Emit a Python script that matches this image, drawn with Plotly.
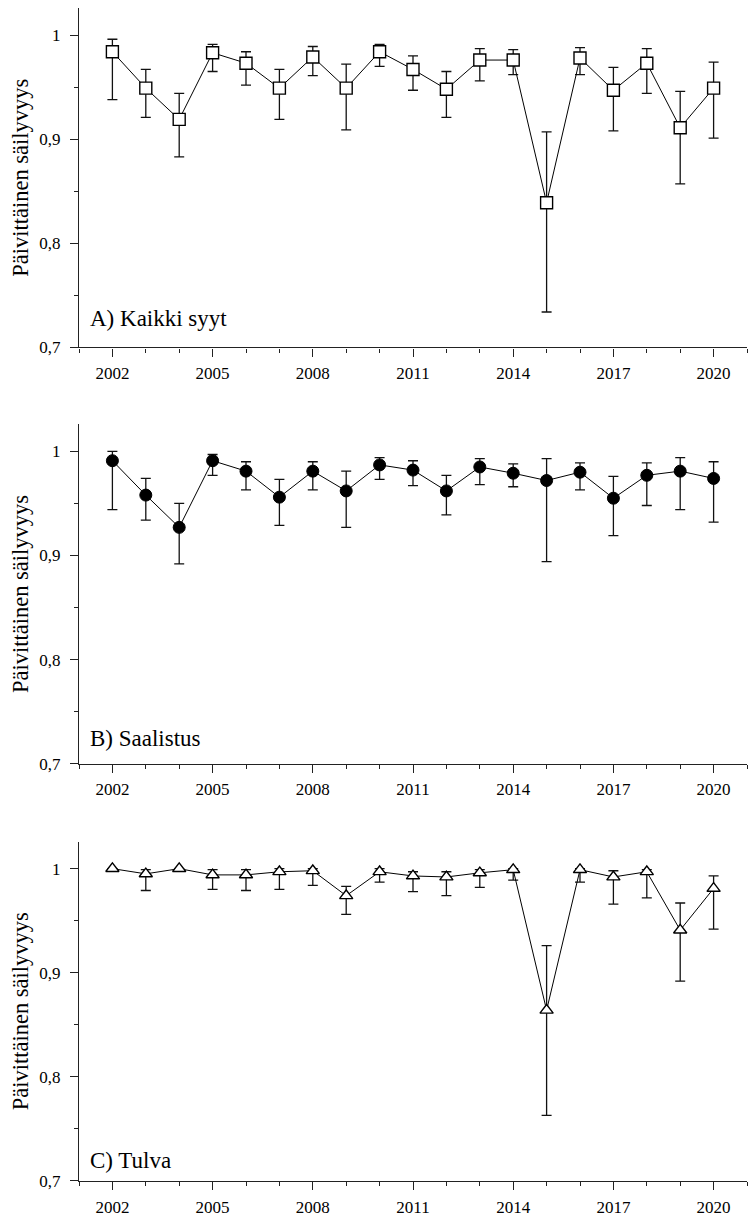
import plotly.graph_objects as go

years = list(range(2002, 2021))

a_val = [0.984, 0.949, 0.919, 0.983, 0.973, 0.949, 0.979, 0.949, 0.984, 0.967, 0.948, 0.976, 0.976, 0.839, 0.978, 0.947, 0.973, 0.911, 0.949]
a_hi = [0.996, 0.967, 0.944, 0.991, 0.984, 0.967, 0.989, 0.972, 0.991, 0.980, 0.965, 0.987, 0.986, 0.907, 0.988, 0.969, 0.987, 0.946, 0.974]
a_lo = [0.938, 0.921, 0.883, 0.965, 0.952, 0.919, 0.961, 0.909, 0.970, 0.947, 0.921, 0.956, 0.962, 0.734, 0.962, 0.908, 0.944, 0.857, 0.901]

b_val = [0.991, 0.958, 0.927, 0.991, 0.981, 0.956, 0.981, 0.962, 0.987, 0.982, 0.962, 0.985, 0.979, 0.972, 0.980, 0.955, 0.977, 0.981, 0.974]
b_hi = [1.000, 0.974, 0.950, 0.997, 0.990, 0.973, 0.990, 0.981, 0.994, 0.991, 0.977, 0.993, 0.988, 0.993, 0.989, 0.976, 0.989, 0.994, 0.990]
b_lo = [0.944, 0.934, 0.892, 0.977, 0.963, 0.929, 0.963, 0.927, 0.973, 0.967, 0.939, 0.968, 0.966, 0.894, 0.963, 0.919, 0.948, 0.944, 0.932]

c_val = [1.000, 0.995, 1.000, 0.994, 0.994, 0.997, 0.998, 0.974, 0.997, 0.993, 0.992, 0.996, 0.999, 0.864, 0.999, 0.992, 0.997, 0.941, 0.981]
c_hi = [1.000, 0.999, 1.000, 0.999, 0.999, 1.000, 1.000, 0.983, 1.000, 0.997, 0.997, 0.999, 1.000, 0.926, 1.000, 0.998, 0.999, 0.967, 0.993]
c_lo = [0.998, 0.979, 0.998, 0.980, 0.979, 0.980, 0.984, 0.956, 0.987, 0.978, 0.974, 0.982, 0.989, 0.763, 0.987, 0.966, 0.972, 0.892, 0.942]

panel_labels = ["A) Kaikki syyt", "B) Saalistus", "C) Tulva"]
y_title = "Päivittäinen säilyvyys"
x_tickvals = [2002, 2005, 2008, 2011, 2014, 2017, 2020]
y_tickvals = [0.7, 0.8, 0.9, 1.0]
y_ticktext = ["0,7", "0,8", "0,9", "1"]

FONT = "Liberation Serif, Times New Roman, serif"
AX = "#222"

fig = go.Figure()

series = [
    (a_val, a_hi, a_lo, dict(symbol="square", size=12, color="white", line=dict(color="black", width=1.4))),
    (b_val, b_hi, b_lo, dict(symbol="circle", size=12, color="black", line=dict(color="black", width=1))),
    (c_val, c_hi, c_lo, dict(symbol="triangle-up", size=11.5, color="white", line=dict(color="black", width=1.4))),
]

for i, (v, hi, lo, mk) in enumerate(series):
    n = "" if i == 0 else str(i + 1)
    fig.add_trace(go.Scatter(
        x=years, y=v, mode="lines+markers",
        line=dict(color="black", width=1),
        marker=mk,
        error_y=dict(type="data", symmetric=False,
                     array=[h - y for h, y in zip(hi, v)],
                     arrayminus=[y - l for y, l in zip(v, lo)],
                     color="#111", thickness=1.3, width=5),
        xaxis="x" + n, yaxis="y" + n, showlegend=False,
    ))

H = 1218
top, bot = 8, 35
ph = H - top - bot
panel_px = [(8, 348), (425, 765), (843, 1183)]
label_off = [29, 25, 21]

layout = dict(
    width=748, height=H,
    margin=dict(l=79, r=1, t=top, b=bot),
    paper_bgcolor="white", plot_bgcolor="white",
    font=dict(family=FONT, size=17, color="black"),
    annotations=[],
)

for i, (pt, pb) in enumerate(panel_px):
    n = "" if i == 0 else str(i + 1)
    d0 = (H - bot - pb) / ph
    d1 = (H - bot - pt) / ph
    layout["xaxis" + n] = dict(
        range=[2001, 2021], anchor="y" + n, domain=[0, 1],
        showline=True, linecolor=AX, linewidth=1.4,
        ticks="outside", ticklen=8, tickwidth=1.4, tickcolor=AX,
        tickvals=x_tickvals, tickfont=dict(size=17, family=FONT),
        ticklabelstandoff=2,
        minor=dict(tickvals=list(range(2001, 2022)), ticks="outside", ticklen=4, tickwidth=1.4, tickcolor=AX),
        showgrid=False, zeroline=False, fixedrange=True,
    )
    layout["yaxis" + n] = dict(
        range=[0.7, 1.026], anchor="x" + n, domain=[max(d0, 0), min(d1, 1)],
        showline=True, linecolor=AX, linewidth=1.4,
        ticks="outside", ticklen=8, tickwidth=1.4, tickcolor=AX,
        tickvals=y_tickvals, ticktext=y_ticktext, tickfont=dict(size=17, family=FONT),
        ticklabelstandoff=6,
        minor=dict(tickvals=[0.75, 0.85, 0.95], ticks="outside", ticklen=4, tickwidth=1.4, tickcolor=AX),
        showgrid=False, zeroline=False, fixedrange=True,
        title=dict(text=y_title, font=dict(size=22.5, family=FONT), standoff=4),
    )
    layout["annotations"].append(dict(
        text=panel_labels[i], xref="x" + n + " domain", yref="y" + n + " domain",
        x=9 / 668, y=label_off[i] / 340, xanchor="left", yanchor="middle",
        showarrow=False, font=dict(size=23, family=FONT),
    ))

fig.update_layout(**layout)
fig.write_html("out.html")
